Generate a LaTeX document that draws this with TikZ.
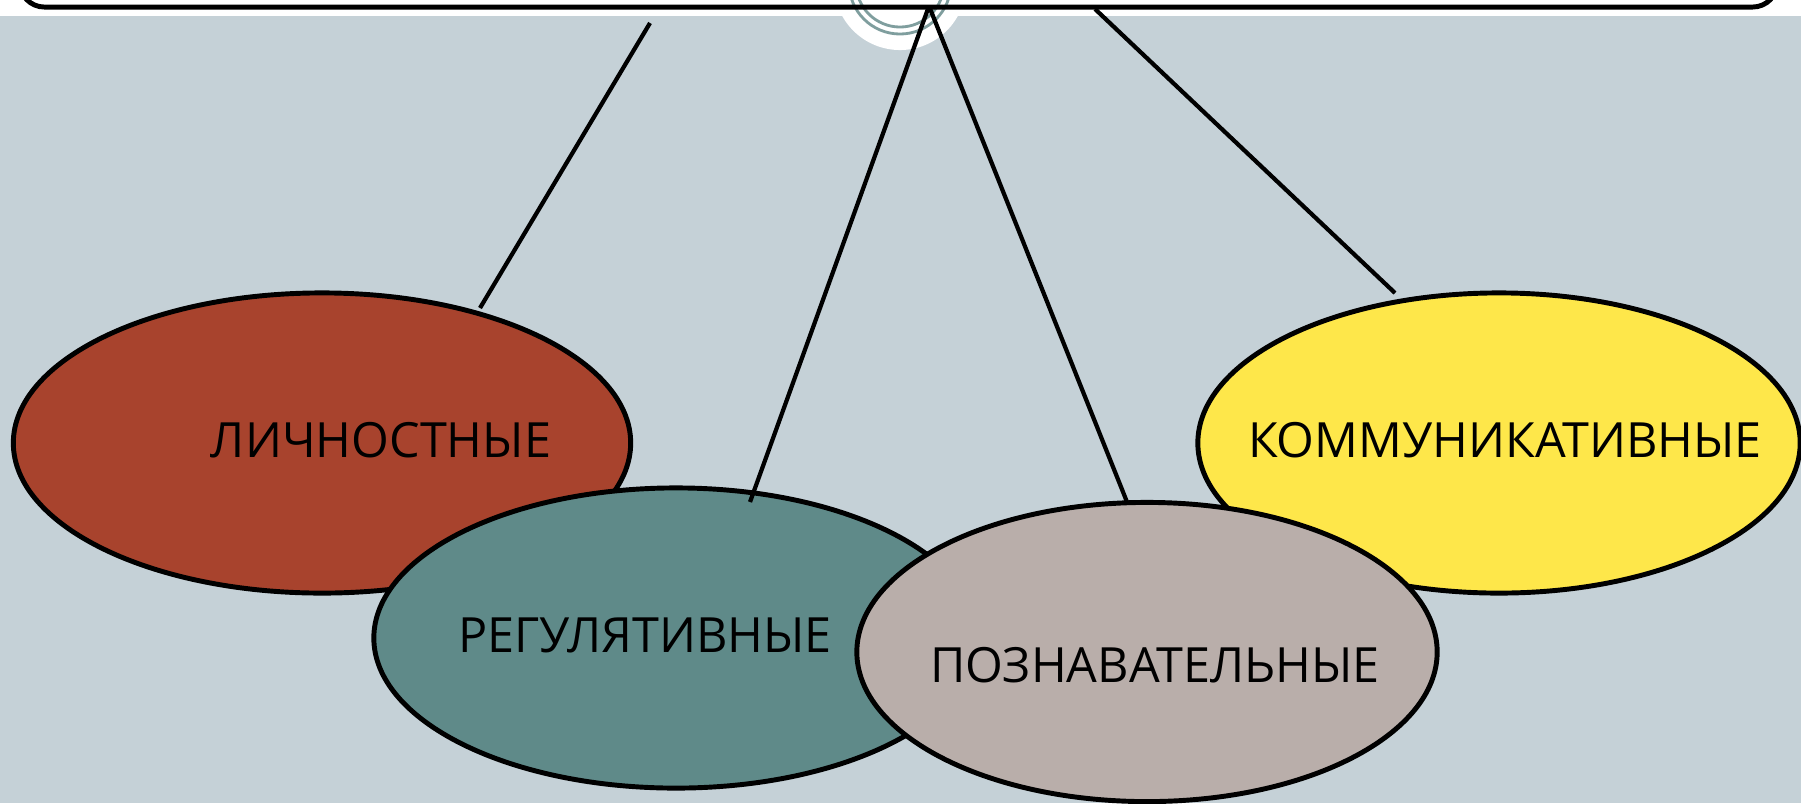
\documentclass[tikz,border=0pt]{standalone}
\usepackage{fontspec}
\setmainfont{Open Sans}
\usetikzlibrary{shapes.geometric}
\definecolor{bgc}{HTML}{C5D1D7}
\definecolor{redc}{HTML}{A8432D}
\definecolor{tealc}{HTML}{5F8A89}
\definecolor{taupec}{HTML}{B9AEAA}
\definecolor{yelc}{HTML}{FEE74A}
\definecolor{arcc}{HTML}{7F9E9E}
\tikzset{
  oval/.style={ellipse, draw=black, line width=1.4pt, inner sep=0pt},
  lbl/.style={inner sep=0pt, font=\fontsize{13.8}{16}\selectfont, text=black},
  conn/.style={draw=black, line width=1.2pt},
}
\begin{document}
\begin{tikzpicture}[x=0.01cm, y=-0.01cm]
\useasboundingbox (0,0) rectangle (1801,803);
\fill[white] (0,0) rectangle (1801,16);
\fill[bgc] (0,16) rectangle (1801,803);
% decorative circle
\fill[white] (900,-16) circle[radius=0.66cm];
\draw[arcc, line width=0.8pt] (900,-17) circle[radius=0.44cm];
\draw[arcc, line width=0.8pt] (900,-17) circle[radius=0.51cm];
% top rounded box
\node[draw=black, line width=1.4pt, rounded corners=0.25cm, minimum width=17.57cm, minimum height=2cm, inner sep=0pt] (top) at (898.5,-93) {};
% ellipses
\node[oval, fill=redc, minimum width=6.17cm, minimum height=3.0cm] (lich) at (322,443) {};
\node[oval, fill=yelc, minimum width=6.02cm, minimum height=3.0cm] (komm) at (1499,443) {};
\node[oval, fill=tealc, minimum width=6.04cm, minimum height=3.0cm] (reg) at (676,638) {};
\node[oval, fill=taupec, minimum width=5.8cm, minimum height=2.99cm] (pozn) at (1147,652) {};
% labels
\node[lbl] (tlich) at (381,440) {ЛИЧНОСТНЫЕ};
\node[lbl] (tkomm) at (1505,440) {КОММУНИКАТИВНЫЕ};
\node[lbl] (treg) at (645,635) {РЕГУЛЯТИВНЫЕ};
\node[lbl] (tpozn) at (1155,665) {ПОЗНАВАТЕЛЬНЫЕ};
% connector ends
\coordinate (a1) at (650,23);
\coordinate (b1) at (480,308);
\coordinate (apex) at (929,6);
\coordinate (b2) at (750,502);
\coordinate (b3) at (1127,502);
\coordinate (a4) at (1095,9);
\coordinate (b4) at (1395,293);
\draw[conn] (a1) -- (b1);
\draw[conn] (apex) -- (b2);
\draw[conn] (apex) -- (b3);
\draw[conn] (a4) -- (b4);
\end{tikzpicture}
\end{document}
